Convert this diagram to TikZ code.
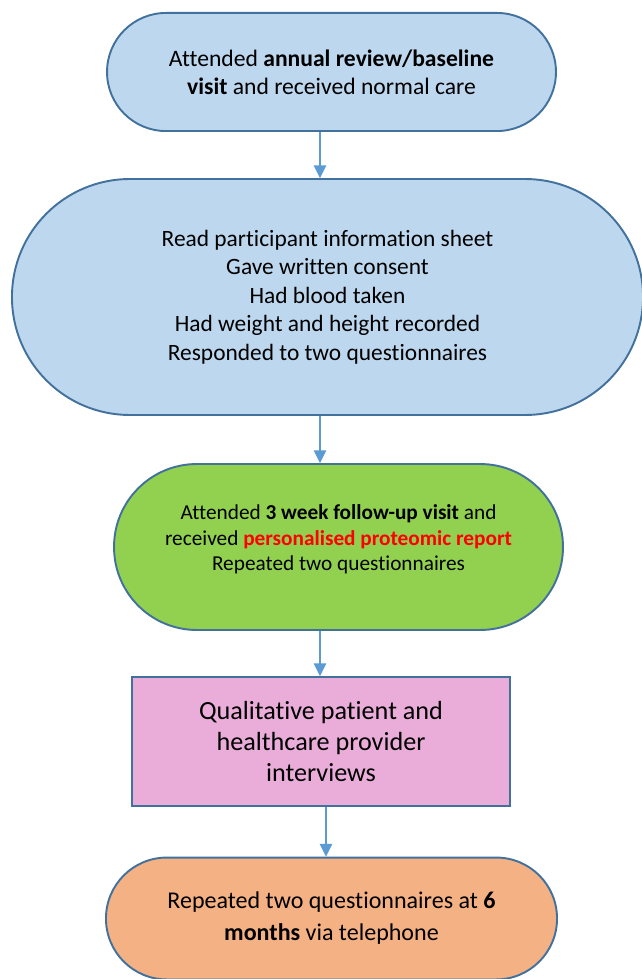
\documentclass[tikz,border=0pt]{standalone}
\usepackage{fontspec}
\setmainfont{Carlito}[Ligatures=NoCommon]
\usetikzlibrary{arrows.meta,positioning}
\definecolor{bluefill}{HTML}{BDD7EE}
\definecolor{greenfill}{HTML}{92D050}
\definecolor{pinkfill}{HTML}{EAADD9}
\definecolor{orangefill}{HTML}{F4B183}
\definecolor{edgecol}{HTML}{41719C}
\definecolor{arrowcol}{HTML}{5B9BD5}
\definecolor{reportred}{HTML}{FF0000}

\begin{document}
\begin{tikzpicture}[x=0.47pt, y=-0.47pt,
  stage/.style={draw=edgecol, line width=0.9pt, align=center, inner sep=0pt},
  arr/.style={-{Triangle[width=5.8pt,length=6pt]}, line width=0.7pt, arrowcol}
]
  \useasboundingbox (0,0) rectangle (641,979);
  \fill[white] (0,0) rectangle (641,979);
  \node[stage, fill=bluefill, minimum width=211pt, minimum height=55.5pt,
    rounded corners=27.7pt, font={\fontsize{11.1}{13.2}\selectfont}] (visit) at (331.5,72)
    {Attended \textbf{annual review/baseline}\\\textbf{visit} and received normal care};
  \node[stage, fill=bluefill, minimum width=296.6pt, minimum height=110.9pt,
    rounded corners=55.4pt, font={\fontsize{11}{13.4}\selectfont}] (consent) at (327.5,297)
    {Read participant information sheet\\Gave written consent\\Had blood taken\\
     Had weight and height recorded\\Responded to two questionnaires};
  \node[stage, fill=greenfill, minimum width=211pt, minimum height=78pt,
    rounded corners=38.9pt, text depth=8.7pt, font={\fontsize{10}{12}\selectfont}] (followup) at (338.5,547)
    {Attended \textbf{3 week follow-up visit} and\\received
     \textcolor{reportred}{\textbf{personalised proteomic report}}\\Repeated two questionnaires};
  \node[stage, fill=pinkfill, minimum width=177.7pt, minimum height=60.6pt,
    font={\fontsize{12.3}{14.8}\selectfont}] (interviews) at (321,741.5)
    {Qualitative patient and\\healthcare provider\\interviews};
  \node[stage, fill=orangefill, minimum width=212pt, minimum height=57.3pt,
    rounded corners=28.6pt, font={\fontsize{11.3}{15}\selectfont}] (sixmonths) at (331.5,918.5)
    {Repeated two questionnaires at \textbf{6}\\\textbf{months} via telephone};
  % arrow columns
  \coordinate (spine) at (320,0);
  \coordinate (spineb) at (326,0);
  \draw[arr] (visit.south -| spine) -- (consent.north -| spine);
  \draw[arr] (consent.south -| spine) -- (followup.north -| spine);
  \draw[arr] (followup.south -| spine) -- (interviews.north -| spine);
  \draw[arr] (interviews.south -| spineb) -- (sixmonths.north -| spineb);
\end{tikzpicture}
\end{document}
